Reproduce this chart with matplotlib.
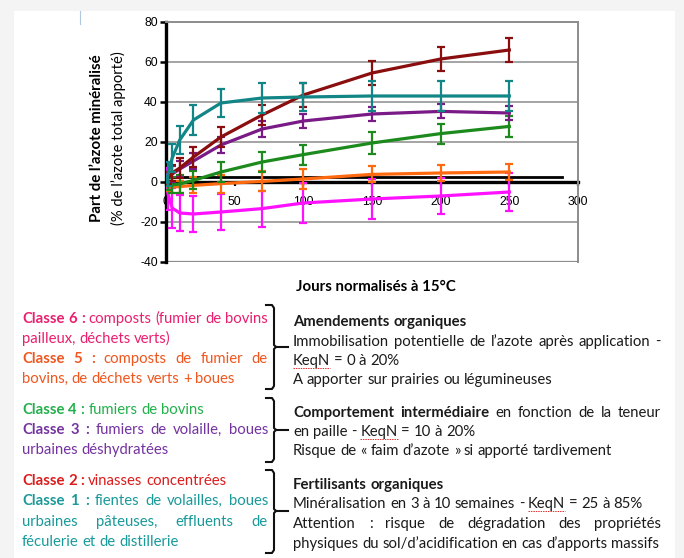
import matplotlib
matplotlib.use("Agg")
import matplotlib.pyplot as plt
from matplotlib.patches import Rectangle
from matplotlib.lines import Line2D

# ---------------- data ----------------
days = [0, 1.5, 4.5, 10, 20, 40, 70, 100, 150, 200, 250]
classe1 = [0, 4, 12, 21, 31, 39.5, 42, 42.5, 43, 43, 43]
classe1_err = [0, 6, 7, 7, 7.5, 7, 7.5, 7, 7.5, 7.5, 7.5]
classe2 = [0, 2, 4.5, 7, 12.5, 22.5, 33.5, 43.5, 54.5, 61.5, 66]
classe2_err = [0, 3, 4, 5, 5, 5, 5, 6, 6, 6, 6]
classe3 = [0, 2, 4, 6.5, 10.5, 18.5, 26.5, 30.5, 34, 35.3, 34.5]
classe3_err = [0, 3, 4, 4, 4, 4, 4, 3.5, 3.5, 3.5, 3.5]
classe4 = [0, -1, -1.5, -1, 0.8, 5, 10, 13.7, 19.5, 24.2, 27.8]
classe4_err = [0, 3, 4, 4.5, 4.5, 5, 5, 5, 5.5, 5, 5.3]
classe5 = [0, -2.5, -2.5, -2.3, -1.7, -0.8, 0.3, 1.5, 3.8, 4.5, 5]
classe5_err = [0, 2, 3, 3, 4, 4.5, 5, 5, 4, 4, 4]
classe6 = [3, -6, -13, -15.5, -16, -15, -13.3, -10.5, -8.5, -7, -5]
classe6_err = [4, 8, 10, 9, 9, 9, 9, 10, 10, 9, 9.5]

ref_line_level = 2.5
ref_line_end = 288

x_ticks = [0, 50, 100, 150, 200, 250, 300]
y_ticks = [-40, -20, 0, 20, 40, 60, 80]

W, H = 684, 558
fig = plt.figure(figsize=(W / 100, H / 100), dpi=100)
fig.patch.set_facecolor("#f4f4f4")
fig.patches.append(Rectangle((14 / W, 0), (675 - 14) / W, 1 - 11 / H,
                             transform=fig.transFigure, facecolor="white",
                             edgecolor="none", zorder=-10))
fig.lines.append(Line2D([80 / W, 80 / W], [1 - 11 / H, 1 - 24 / H],
                        transform=fig.transFigure, color="#b0c8e0", lw=0.8,
                        zorder=-5))


def fx(x):
    return x / W


def fy(y):
    return 1 - y / H


# ---------------- chart ----------------
ax = fig.add_axes([fx(166), fy(262), 412 / W, 240 / H])
ax.set_zorder(5)
ax.set_facecolor("white")
ax.set_xlim(0, 300)
ax.set_ylim(-40, 80)

for g in [-20, 20, 40, 60]:
    ax.axhline(g, color="#8c8c8c", lw=1.1, zorder=1)
ax.axhline(-40, color="#8c8c8c", lw=1.6, zorder=1)
for s in ["top", "right"]:
    ax.spines[s].set_color("#8c8c8c")
    ax.spines[s].set_linewidth(1.4)
ax.spines["left"].set_color("black")
ax.spines["left"].set_linewidth(2.4)
ax.spines["bottom"].set_position(("data", 0))
ax.spines["bottom"].set_color("black")
ax.spines["bottom"].set_linewidth(2.4)
ax.spines["bottom"].set_zorder(2)

ax.plot([0, ref_line_end], [ref_line_level, ref_line_level], color="black",
        lw=2.0, zorder=2)

series = [
    (classe6, classe6_err, "#ff10ff"),
    (classe5, classe5_err, "#ff6a10"),
    (classe4, classe4_err, "#1c8a1c"),
    (classe3, classe3_err, "#7a1a86"),
    (classe2, classe2_err, "#8a0e0e"),
    (classe1, classe1_err, "#128686"),
]
for i, (vals, err, col) in enumerate(series):
    ax.errorbar(days, vals, yerr=err, color=col, lw=2.3, elinewidth=1.6,
                capsize=3.2, capthick=1.6, zorder=3 + i)

ax.set_xticks(x_ticks)
ax.set_yticks(y_ticks)
tick_font = dict(family="Liberation Sans", size=8.8)
ax.set_xticklabels([str(v) for v in x_ticks], **tick_font)
ax.set_yticklabels([str(v) for v in y_ticks], **tick_font)
ax.tick_params(axis="x", direction="out", length=3, width=1.6, pad=7,
               colors="black")
ax.tick_params(axis="y", direction="out", length=4, width=1.8, pad=2,
               colors="black")

fig.text(fx(97), fy(138), "Part de l’azote minéralisé", rotation=90,
         ha="center", va="center", family="Lato", weight="bold", size=10.8)
fig.text(fx(118), fy(138), "(% de l’azote total apporté)", rotation=90,
         ha="center", va="center", family="Lato", size=10.6)
fig.text(fx(376), fy(287), "Jours normalisés à 15°C", ha="center",
         va="center", family="Lato", weight="bold", size=10.8)

# ---------------- text blocks ----------------
renderer = fig.canvas.get_renderer()
FONT = "Lato"


def text_width(s, weight, size):
    t = fig.text(0, 0, s, family=FONT, weight=weight, size=size)
    w = t.get_window_extent(renderer).width
    t.remove()
    return w


# fit font size so that a reference line spans its measured width
ref_w = text_width("physiques du sol/d’acidification en cas d’apports massifs",
                   "normal", 10)
SIZE = 10 * 368 / ref_w


def draw_line(segments, x0, yc, x1=None, underline=()):
    words = []
    for text, color, weight in segments:
        for w in text.split():
            words.append((w, color, weight))
    widths = [text_width(w, wt, SIZE) for w, c, wt in words]
    space = text_width("n n", "normal", SIZE) - text_width("nn", "normal", SIZE)
    if x1 is not None and len(words) > 1:
        gap = (x1 - x0 - sum(widths)) / (len(words) - 1)
    else:
        gap = space
    x = x0
    base = yc + 5
    for (w, c, wt), wd in zip(words, widths):
        fig.text(fx(x), fy(base), w, family=FONT, weight=wt, size=SIZE,
                 color=c, ha="left", va="baseline")
        if w in underline:
            fig.lines.append(Line2D([fx(x), fx(x + wd)], [fy(base + 3), fy(base + 3)],
                                    transform=fig.transFigure, color="#e03030",
                                    lw=0.7, ls=(0, (1.5, 1))))
        x += wd + gap


def brace(top, bottom, mid, x=274, hook=266, stub=288):
    pts1 = [(hook, top), (x - 2, top), (x, top + 3), (x, mid - 2),
            (x + 2, mid), (stub, mid)]
    pts2 = [(x + 2, mid), (x, mid + 2), (x, bottom - 3), (x - 2, bottom),
            (hook, bottom)]
    for pts in (pts1, pts2):
        fig.lines.append(Line2D([fx(p[0]) for p in pts], [fy(p[1]) for p in pts],
                                transform=fig.transFigure, color="#111111",
                                lw=1.5, solid_joinstyle="round"))


PINK = "#ea1f6e"
ORANGE = "#f0561e"
GREEN = "#22b04b"
PURPLE = "#7433a0"
RED = "#dc1c1c"
TEAL = "#19999a"
BLACK = "#1a1a1a"
B, N = "bold", "normal"
LX0, LX1 = 22, 268
RX0, RX1 = 293, 661

# block 1
draw_line([("Classe 6 :", PINK, B), ("composts (fumier de bovins", PINK, N)], LX0, 318, LX1)
draw_line([("pailleux, déchets verts)", PINK, N)], LX0, 338)
draw_line([("Classe 5 :", ORANGE, B), ("composts de fumier de", ORANGE, N)], LX0, 358, LX1)
draw_line([("bovins, de déchets verts + boues", ORANGE, N)], LX0, 378)
brace(305, 389, 347)
draw_line([("Amendements organiques", BLACK, B)], RX0, 321)
draw_line([("Immobilisation potentielle de l’azote après application -", BLACK, N)], RX0, 341, RX1)
draw_line([("KeqN = 0 à 20%", BLACK, N)], RX0, 360, underline=("KeqN",))
draw_line([("A apporter sur prairies ou légumineuses", BLACK, N)], RX0, 379)

# block 2
draw_line([("Classe 4 :", GREEN, B), ("fumiers de bovins", GREEN, N)], LX0, 409)
draw_line([("Classe 3 :", PURPLE, B), ("fumiers de volaille, boues", PURPLE, N)], LX0, 429, LX1)
draw_line([("urbaines déshydratées", PURPLE, N)], LX0, 449)
brace(398, 462, 430)
draw_line([("Comportement intermédiaire", BLACK, B), ("en fonction de la teneur", BLACK, N)], RX0, 412, RX1)
draw_line([("en paille - KeqN = 10 à 20%", BLACK, N)], RX0, 431, underline=("KeqN",))
draw_line([("Risque de « faim d’azote » si apporté tardivement", BLACK, N)], RX0, 450)

# block 3
draw_line([("Classe 2 :", RED, B), ("vinasses concentrées", RED, N)], LX0, 480)
draw_line([("Classe 1 :", TEAL, B), ("fientes de volailles, boues", TEAL, N)], LX0, 500, LX1)
draw_line([("urbaines pâteuses, effluents de", TEAL, N)], LX0, 521, LX1)
draw_line([("féculerie et de distillerie", TEAL, N)], LX0, 541)
brace(470, 553, 511)
draw_line([("Fertilisants organiques", BLACK, B)], RX0, 484)
draw_line([("Minéralisation en 3 à 10 semaines - KeqN = 25 à 85%", BLACK, N)], RX0, 503, underline=("KeqN",))
draw_line([("Attention : risque de dégradation des propriétés", BLACK, N)], RX0, 523, RX1)
draw_line([("physiques du sol/d’acidification en cas d’apports massifs", BLACK, N)], RX0, 543)

fig.savefig("out.png", dpi=100, facecolor=fig.get_facecolor())
